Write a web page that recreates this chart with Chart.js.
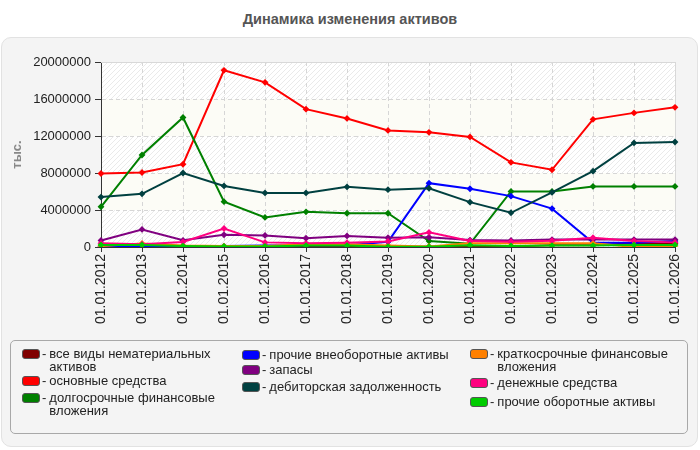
<!DOCTYPE html>
<html>
<head>
<meta charset="utf-8">
<script src="https://cdn.jsdelivr.net/npm/chart.js@4/dist/chart.umd.min.js"></script>
<style>
  body { margin: 0; background: #fff; font-family: "Liberation Sans", Arial, sans-serif; }
  #wrap { position: relative; width: 700px; height: 450px; overflow: hidden; }
  #title { position: absolute; top: 11px; left: 0; width: 700px; text-align: center; font-weight: bold; font-size: 14.5px; color: #555; }
  #panel { position: absolute; top: 37px; left: 1px; width: 695px; height: 408px; background: #f4f4f4; border: 1px solid #e2e2e2; border-radius: 10px; }
  #chart { position: absolute; top: 0; left: 0; }
  #legend { position: absolute; top: 340px; left: 10px; width: 676px; height: 92px; border: 1px solid #a8a8a8; border-radius: 5px; }
  .item { position: absolute; display: flex; font-size: 13px; line-height: 12.5px; color: #222; }
  .sw { width: 16px; height: 8px; border: 1px solid #555; border-radius: 3px; margin-top: 1px; margin-right: 2px; }
  .dash { margin-right: 3px; }
</style>
</head>
<body>
<div id="wrap">
  <div id="title">Динамика изменения активов</div>
  <div id="panel"></div>
  <canvas id="chart" width="700" height="450"></canvas>
  <div id="legend"></div>
</div>
<script>
const labels = ["01.01.2012", "01.01.2013", "01.01.2014", "01.01.2015", "01.01.2016",
    "01.01.2017", "01.01.2018", "01.01.2019", "01.01.2020", "01.01.2021",
    "01.01.2022", "01.01.2023", "01.01.2024", "01.01.2025", "01.01.2026"];

const yTicks = [0, 4000000, 8000000, 12000000, 16000000, 20000000];

// series (тыс.)
const intangible = [0, 0, 0, 0, 0, 0, 0, 0, 30000, 50000, 50000, 200000, 200000, 400000, 350000];
const fixedAssets = [7950000, 8050000, 8950000, 19100000, 17800000, 14900000, 13900000, 12600000,
    12400000, 11900000, 9150000, 8350000, 13800000, 14500000, 15100000];
const longInvest = [4350000, 9950000, 14000000, 4900000, 3200000, 3800000, 3650000, 3650000,
    650000, 350000, 6000000, 6000000, 6550000, 6550000, 6550000];
const otherNonCurrent = [50000, 50000, 100000, 100000, 150000, 200000, 200000, 550000,
    6900000, 6300000, 5500000, 4150000, 450000, 450000, 650000];
const stocks = [700000, 1900000, 720000, 1320000, 1250000, 950000, 1200000, 1000000,
    1050000, 750000, 700000, 800000, 800000, 800000, 800000];
const receivables = [5400000, 5750000, 8000000, 6600000, 5850000, 5850000, 6500000, 6200000,
    6350000, 4850000, 3700000, 5900000, 8200000, 11250000, 11350000];
const shortInvest = [100000, 380000, 150000, 100000, 100000, 300000, 300000, 150000,
    50000, 400000, 400000, 400000, 400000, 0, 0];
const cash = [400000, 300000, 550000, 2000000, 500000, 400000, 470000, 600000,
    1580000, 650000, 580000, 680000, 1000000, 650000, 500000];
const otherCurrent = [220000, 220000, 100000, 60000, 60000, 150000, 150000, 30000,
    20000, 200000, 120000, 150000, 150000, 220000, 220000];

const series = [
    { name: "все виды нематериальных<br>активов", data: intangible, color: "#800000", col: 0, top: 7 },
    { name: "основные средства", data: fixedAssets, color: "#ff0000", col: 0, top: 34 },
    { name: "долгосрочные финансовые<br>вложения", data: longInvest, color: "#008000", col: 0, top: 51 },
    { name: "прочие внеоборотные активы", data: otherNonCurrent, color: "#0000ff", col: 1, top: 8 },
    { name: "запасы", data: stocks, color: "#800080", col: 1, top: 23 },
    { name: "дебиторская задолженность", data: receivables, color: "#004040", col: 1, top: 40 },
    { name: "краткосрочные финансовые<br>вложения", data: shortInvest, color: "#ff8000", col: 2, top: 7 },
    { name: "денежные средства", data: cash, color: "#ff0080", col: 2, top: 36 },
    { name: "прочие оборотные активы", data: otherCurrent, color: "#00cc00", col: 2, top: 55 }
];

// html legend
const colX = [11, 231, 459];
const legend = document.getElementById("legend");
series.forEach(function (s) {
    const div = document.createElement("div");
    div.className = "item";
    div.style.left = colX[s.col] + "px";
    div.style.top = s.top + "px";
    div.innerHTML = '<div class="sw" style="background:' + s.color + '"></div><span class="dash">-</span><span>' + s.name + '</span>';
    legend.appendChild(div);
});

// hatch pattern for the striped bands
const pat = document.createElement("canvas");
pat.width = 5; pat.height = 5;
const pctx = pat.getContext("2d");
pctx.fillStyle = "#ffffff";
pctx.fillRect(0, 0, 5, 5);
pctx.strokeStyle = "#eaeaea";
pctx.lineWidth = 1;
pctx.beginPath();
pctx.moveTo(-1, 6); pctx.lineTo(6, -1);
pctx.moveTo(-1, 1); pctx.lineTo(1, -1);
pctx.moveTo(4, 6); pctx.lineTo(6, 4);
pctx.stroke();

const bands = {
    id: "bands",
    beforeDraw(chart) {
        const { ctx, chartArea, scales } = chart;
        const y = scales.y;
        const hatch = ctx.createPattern(pat, "repeat");
        ctx.save();
        for (let i = 0; i < yTicks.length - 1; i++) {
            const top = y.getPixelForValue(yTicks[i + 1]);
            const bot = y.getPixelForValue(yTicks[i]);
            ctx.fillStyle = i % 2 === 0 ? hatch : "#fcfcf6";
            ctx.fillRect(chartArea.left, top, chartArea.right - chartArea.left, bot - top);
        }
        ctx.restore();
    },
    beforeDatasetsDraw(chart) {
        const { ctx, chartArea } = chart;
        ctx.save();
        ctx.strokeStyle = "#d8d8d8";
        ctx.lineWidth = 1;
        ctx.beginPath();
        ctx.moveTo(chartArea.left, chartArea.top + 0.5);
        ctx.lineTo(chartArea.right + 0.5, chartArea.top + 0.5);
        ctx.lineTo(chartArea.right + 0.5, chartArea.bottom);
        ctx.stroke();
        ctx.restore();
    }
};

const data = {
    labels: labels,
    datasets: series.map(function (s, i) {
        return {
            label: s.name.replace("<br>", " "),
            data: s.data,
            borderColor: s.color,
            backgroundColor: s.color,
            borderWidth: 2,
            pointStyle: "rectRot",
            pointRadius: 2,
            pointHoverRadius: 2,
            tension: 0,
            fill: false,
            order: series.length - i
        };
    })
};

const config = {
    type: "line",
    data: data,
    plugins: [bands],
    options: {
        responsive: false,
        animation: false,
        devicePixelRatio: 1,
        layout: { padding: { top: 62, right: 25, left: 0, bottom: 0 } },
        plugins: { legend: { display: false }, tooltip: { enabled: false } },
        scales: {
            x: {
                offset: false,
                afterFit: function (s) { s.height = 203; },
                grid: { color: "#d6d6d6", tickColor: "#333", tickLength: 5 },
                border: { color: "#333", width: 1, dash: [4, 3] },
                ticks: {
                    color: "#222", padding: 2, autoSkip: false,
                    maxRotation: 90, minRotation: 90,
                    font: { family: "'Liberation Sans', Arial", size: 14 }
                }
            },
            y: {
                min: 0,
                max: 20000000,
                afterFit: function (s) { s.width = 101; },
                afterBuildTicks: function (s) { s.ticks = yTicks.map(function (v) { return { value: v }; }); },
                grid: { color: "#d6d6d6", tickColor: "#333", tickLength: 6 },
                border: { color: "#333", width: 1, dash: [4, 3] },
                title: {
                    display: true, text: "тыс.", color: "#888",
                    padding: { top: 10, bottom: 0 },
                    font: { family: "'Liberation Sans', Arial", size: 13, weight: "bold" }
                },
                ticks: {
                    color: "#222", padding: 4,
                    font: { family: "'Liberation Sans', Arial", size: 13 },
                    callback: function (v) { return String(v); }
                }
            }
        }
    }
};

new Chart(document.getElementById("chart"), config);
</script>
</body>
</html>
